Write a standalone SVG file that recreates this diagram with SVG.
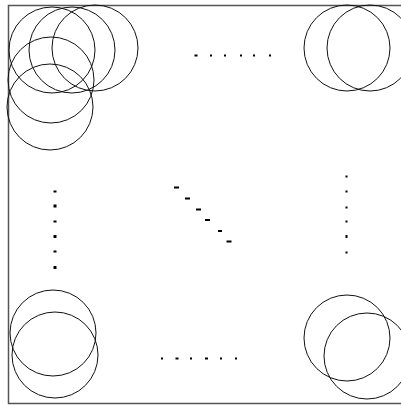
<svg xmlns="http://www.w3.org/2000/svg" width="401" height="406" viewBox="0 0 401 406">
<style>
.c{fill:none;stroke:#111;stroke-width:1}
.f{fill:none;stroke:#555;stroke-width:1.5}
.d{fill:#000}
</style>
<rect width="401" height="406" fill="#fff"/>
<g id="frame"><path class="f" d="M401,5.5 H8.5 V403.5 H401"/></g>
<g id="top-left">
<circle class="c" cx="52" cy="50" r="43"/>
<circle class="c" cx="72" cy="50" r="43"/>
<circle class="c" cx="95" cy="48" r="43"/>
<circle class="c" cx="51" cy="80" r="43"/>
<circle class="c" cx="50" cy="107" r="43"/>
</g>
<g id="top-right">
<circle class="c" cx="347" cy="48" r="43"/>
<circle class="c" cx="370" cy="48" r="43"/>
</g>
<g id="bottom-left">
<circle class="c" cx="53" cy="333" r="43"/>
<circle class="c" cx="55" cy="355" r="43"/>
</g>
<g id="bottom-right">
<circle class="c" cx="347" cy="338" r="43"/>
<circle class="c" cx="367" cy="356" r="43"/>
</g>
<g id="dots-top">
<rect class="d" x="194.5" y="54.5" width="3" height="2"/>
<rect class="d" x="210" y="54.5" width="2" height="2"/>
<rect class="d" x="224" y="54.5" width="2" height="2"/>
<rect class="d" x="240" y="54.5" width="2" height="2"/>
<rect class="d" x="253" y="54.5" width="2" height="2"/>
<rect class="d" x="269" y="54.5" width="2" height="2"/>
</g>
<g id="dots-bottom">
<rect class="d" x="161" y="357.5" width="2" height="2"/>
<rect class="d" x="175.5" y="357.5" width="3" height="2"/>
<rect class="d" x="190" y="357.5" width="2" height="2"/>
<rect class="d" x="205" y="357.5" width="3" height="2"/>
<rect class="d" x="220" y="357.5" width="2" height="2"/>
<rect class="d" x="235" y="357.5" width="2" height="2"/>
</g>
<g id="dots-left">
<rect class="d" x="53.5" y="190.5" width="3" height="2"/>
<rect class="d" x="53.5" y="204.5" width="3" height="3"/>
<rect class="d" x="53.5" y="220.5" width="3" height="2"/>
<rect class="d" x="53.5" y="235" width="3" height="3"/>
<rect class="d" x="53.5" y="250.5" width="3" height="2"/>
<rect class="d" x="53.5" y="266" width="3" height="3"/>
</g>
<g id="dots-right">
<rect class="d" x="345.5" y="175.5" width="2" height="2"/>
<rect class="d" x="345.5" y="190.5" width="2" height="2"/>
<rect class="d" x="345.5" y="206.5" width="2" height="2"/>
<rect class="d" x="345.5" y="220.5" width="2" height="2"/>
<rect class="d" x="345.5" y="235" width="2" height="3"/>
<rect class="d" x="345.5" y="251.5" width="2" height="2"/>
</g>
<g id="dots-diagonal">
<rect class="d" x="174" y="186.5" width="5" height="2"/>
<rect class="d" x="185" y="197.5" width="5" height="2"/>
<rect class="d" x="196" y="208.5" width="5" height="2"/>
<rect class="d" x="205" y="219" width="5" height="2"/>
<rect class="d" x="218" y="230" width="4" height="2"/>
<rect class="d" x="226.5" y="240.5" width="5" height="2"/>
</g>
</svg>
